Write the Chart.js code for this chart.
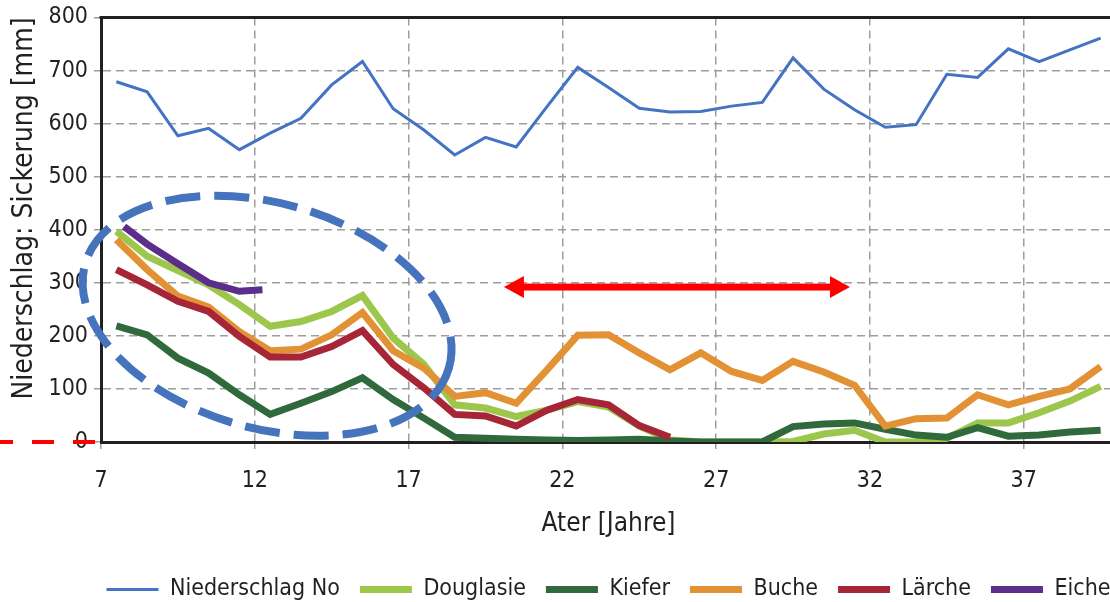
<!DOCTYPE html>
<html lang="de">
<head>
<meta charset="utf-8">
<title>Niederschlag und Sickerung</title>
<script src="https://cdn.jsdelivr.net/npm/chart.js@4.4.1/dist/chart.umd.min.js"></script>
<style>
  html, body { margin: 0; padding: 0; background: #fff; overflow: hidden; }
  #wrap { width: 1216px; height: 602px; }
</style>
</head>
<body>
<div id="wrap"><canvas id="chart" width="1216" height="602"></canvas></div>
<script>
// Bestandesalter (Jahre)
const alter = [7.5, 8.5, 9.5, 10.5, 11.5, 12.5, 13.5, 14.5, 15.5, 16.5, 17.5,
  18.5, 19.5, 20.5, 21.5, 22.5, 23.5, 24.5, 25.5, 26.5, 27.5, 28.5, 29.5,
  30.5, 31.5, 32.5, 33.5, 34.5, 35.5, 36.5, 37.5, 38.5, 39.5];
const alterEiche = [7.75, 8.5, 9.5, 10.5, 11.5, 12.25];
const xTicks = [7, 12, 17, 22, 27, 32, 37];

// Werte in mm
const niederschlag = [679, 660, 577, 591, 551, 582, 610, 673, 717, 628, 588,
  541, 574, 556, 632, 706, 668, 629, 622, 623, 633, 640, 724,
  665, 626, 593, 598, 693, 687, 741, 717, 739, 761];
const douglasie = [397, 350, 323, 296, 259, 218, 227, 246, 276, 196, 146,
  70, 64, 48, 60, 76, 66, 30, 4, 0, 0, 0, 1,
  15, 22, 0, 0, 7, 36, 36, 55, 77, 105];
const kiefer = [219, 202, 158, 130, 89, 52, 73, 95, 121, 80, 45,
  9, 7, 5, 4, 3, 4, 5, 2, 0, 0, 0, 29,
  34, 36, 24, 13, 9, 27, 11, 13, 19, 22];
const buche = [381, 325, 275, 254, 208, 172, 175, 202, 244, 172, 139,
  86, 93, 73, 136, 201, 202, 168, 136, 168, 133, 116, 152,
  132, 107, 30, 44, 45, 89, 70, 86, 100, 142];
const laerche = [325, 296, 265, 246, 199, 160, 160, 180, 210, 146, 102,
  52, 49, 30, 60, 80, 70, 31, 9];
const eiche = [406, 373, 336, 300, 284, 287];

const schrift = "'Liberation Sans Narrow', 'DejaVu Sans Condensed', sans-serif";
const textFarbe = '#231f20';

function punkte(xs, ys) {
  return ys.map((v, i) => ({ x: xs[i], y: v }));
}

function reihe(label, xs, ys, farbe, breite, order) {
  return {
    label: label,
    data: punkte(xs, ys),
    borderColor: farbe,
    backgroundColor: farbe,
    borderWidth: breite,
    pointRadius: 0,
    tension: 0,
    borderCapStyle: 'butt',
    borderJoinStyle: 'miter',
    order: order
  };
}

// Markierungen: Ellipse um die Jugendphase, Doppelpfeil, rote Nulllinie
const ellipse = { x: 12.4, y: 238, halbX: 6.15, halbY: 212, drehung: 16 };
const pfeil = { von: 20.1, bis: 31.35, y: 292 };

const markierungen = {
  id: 'markierungen',
  afterLayout(chart) {
    // Legende unter der Zeichenfläche zentrieren
    const versatz = (chart.chartArea.left + chart.chartArea.right) / 2 - (chart.legend.left + chart.legend.right) / 2;
    chart.legend.left += versatz;
    chart.legend.right += versatz;
  },
  beforeDatasetsDraw(chart) {
    const { ctx, chartArea } = chart;
    // oberer Rahmen
    ctx.save();
    ctx.strokeStyle = '#231f20';
    ctx.lineWidth = 3;
    ctx.beginPath();
    ctx.moveTo(chartArea.left - 1.5, chartArea.top);
    ctx.lineTo(chartArea.right, chartArea.top);
    ctx.stroke();
    ctx.restore();
  },
  afterDraw(chart) {
    const { ctx, chartArea, scales: { x, y } } = chart;
    ctx.save();

    const cx = x.getPixelForValue(ellipse.x);
    const cy = y.getPixelForValue(ellipse.y);
    const rx = x.getPixelForValue(ellipse.x + ellipse.halbX) - cx;
    const ry = y.getPixelForValue(ellipse.y - ellipse.halbY) - cy;
    ctx.strokeStyle = '#4574bd';
    ctx.lineWidth = 8;
    ctx.setLineDash([35, 14]);
    ctx.beginPath();
    ctx.ellipse(cx, cy, rx, ry, ellipse.drehung * Math.PI / 180, 0, Math.PI * 2);
    ctx.stroke();

    // Doppelpfeil
    const x1 = x.getPixelForValue(pfeil.von);
    const x2 = x.getPixelForValue(pfeil.bis);
    const py = y.getPixelForValue(pfeil.y);
    const spitze = 20, halb = 11;
    ctx.setLineDash([]);
    ctx.fillStyle = '#ff0000';
    ctx.fillRect(x1 + spitze - 1, py - 3.5, x2 - x1 - 2 * spitze + 2, 7);
    ctx.beginPath();
    ctx.moveTo(x1, py);
    ctx.lineTo(x1 + spitze, py - halb);
    ctx.lineTo(x1 + spitze, py + halb);
    ctx.closePath();
    ctx.moveTo(x2, py);
    ctx.lineTo(x2 - spitze, py - halb);
    ctx.lineTo(x2 - spitze, py + halb);
    ctx.closePath();
    ctx.fill();

    // rote Strichlinie links der Achse auf Höhe 0
    const y0 = y.getPixelForValue(0);
    ctx.strokeStyle = '#ff0000';
    ctx.lineWidth = 4;
    ctx.setLineDash([22, 19]);
    ctx.beginPath();
    ctx.moveTo(chartArea.left - 6, y0);
    ctx.lineTo(0, y0);
    ctx.stroke();

    ctx.restore();
  }
};

const gitter = {
  color: '#9d9d9d',
  lineWidth: 1.5,
  tickLength: 7,
  tickColor: '#9d9d9d',
  tickBorderDash: [8, 5]
};

new Chart(document.getElementById('chart'), {
  type: 'line',
  data: {
    datasets: [
      reihe('Niederschlag No', alter, niederschlag, '#4473c3', 3, 6),
      reihe('Douglasie', alter, douglasie, '#9cc74c', 7, 5),
      reihe('Kiefer', alter, kiefer, '#306a3c', 7, 4),
      reihe('Buche', alter, buche, '#e29234', 7, 3),
      reihe('Lärche', alter.slice(0, laerche.length), laerche, '#a62536', 7, 2),
      reihe('Eiche', alterEiche, eiche, '#5b2e8c', 7, 1)
    ]
  },
  options: {
    responsive: false,
    animation: false,
    devicePixelRatio: 1,
    layout: { padding: { left: 0, right: 100, top: 15, bottom: -9 } },
    plugins: {
      tooltip: { enabled: false },
      legend: {
        position: 'bottom',
        labels: {
          usePointStyle: true,
          pointStyle: 'line',
          pointStyleWidth: 52,
          boxHeight: 8,
          padding: 20,
          color: textFarbe,
          font: { family: schrift, size: 23 },
          sort: (a, b) => a.datasetIndex - b.datasetIndex
        }
      }
    },
    scales: {
      x: {
        type: 'linear',
        min: 7,
        max: 40,
        afterBuildTicks: (scale) => { scale.ticks = xTicks.map(v => ({ value: v })); },
        afterFit: (scale) => { scale.height = 116; },
        grid: gitter,
        border: { color: '#231f20', width: 3, dash: [8, 5] },
        ticks: { color: textFarbe, font: { family: schrift, size: 23, lineHeight: 0.1 }, padding: 31, maxRotation: 0 },
        title: {
          display: true,
          text: 'Ater [Jahre]',
          color: textFarbe,
          font: { family: schrift, size: 26 },
          padding: { top: 0, bottom: 18 }
        }
      },
      y: {
        min: 0,
        max: 800,
        ticks: { stepSize: 100, color: textFarbe, font: { family: schrift, size: 23, lineHeight: 1 }, padding: 6 },
        grid: gitter,
        border: { color: '#231f20', width: 3, dash: [8, 5] },
        afterFit: (scale) => { scale.width = 101; },
        title: {
          display: true,
          text: 'Niederschlag: Sickerung [mm]',
          align: 'end',
          color: textFarbe,
          font: { family: schrift, size: 28 },
          padding: { top: 8, bottom: 0 }
        }
      }
    }
  },
  plugins: [markierungen]
});
</script>
</body>
</html>
